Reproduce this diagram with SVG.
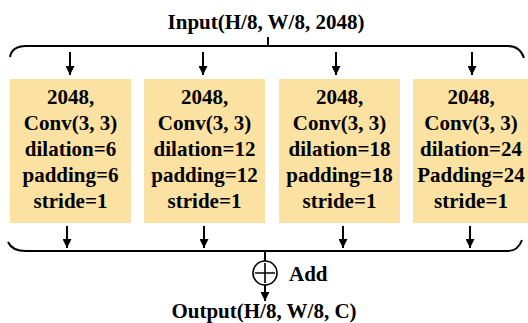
<svg xmlns="http://www.w3.org/2000/svg" width="528" height="323" viewBox="0 0 528 323">
  <defs>
    <marker id="arrow" viewBox="0 0 10 10" refX="10" refY="5" markerWidth="10" markerHeight="9" markerUnits="userSpaceOnUse" orient="auto">
      <path d="M0,0 L10,5 L0,10 Z" fill="#000"/>
    </marker>
    <style>
      .box { fill: #FBE2A2; }
      .lbl { font-family: "Liberation Serif", "Times New Roman", serif; font-weight: bold; font-size: 21px; fill: #000; text-anchor: middle; }
      .line { fill: none; stroke: #000; stroke-width: 2; }
      .arr { fill: none; stroke: #000; stroke-width: 2; marker-end: url(#arrow); }
    </style>
  </defs>
  <rect width="528" height="323" fill="#fff"/>

  <text class="lbl" x="266" y="29">Input(H/8, W/8, 2048)</text>

  <g id="connectors">
    <!-- input bracket -->
    <path class="line" d="M10,57 Q12,46 26,46 L508,46 Q520,46 524,58"/>
    <path class="line" d="M268,37 L268,46"/>
    <path class="arr" d="M70,52 L70,75"/>
    <path class="arr" d="M203,52 L203,75"/>
    <path class="arr" d="M336,52 L336,75"/>
    <path class="arr" d="M472,52 L472,75"/>
    <!-- output bracket -->
    <path class="arr" d="M67,226 L67,248"/>
    <path class="arr" d="M204,226 L204,248"/>
    <path class="arr" d="M343,226 L343,248"/>
    <path class="arr" d="M470,226 L470,248"/>
    <path class="line" d="M8,242 Q12,251 26,251 L508,251 Q518,251 522,240"/>
    <path class="line" d="M265,251 L265,261"/>
    <path class="arr" d="M265,285 L265,301"/>
  </g>

  <g id="branch-d6">
    <rect class="box" x="10" y="79" width="121" height="144"/>
    <text class="lbl" x="70.5" y="104">2048,</text>
    <text class="lbl" x="70.5" y="130">Conv(3, 3)</text>
    <text class="lbl" x="70.5" y="156">dilation=6</text>
    <text class="lbl" x="70.5" y="182">padding=6</text>
    <text class="lbl" x="70.5" y="208">stride=1</text>
  </g>
  <g id="branch-d12">
    <rect class="box" x="144" y="79" width="121" height="144"/>
    <text class="lbl" x="204.5" y="104">2048,</text>
    <text class="lbl" x="204.5" y="130">Conv(3, 3)</text>
    <text class="lbl" x="204.5" y="156">dilation=12</text>
    <text class="lbl" x="204.5" y="182">padding=12</text>
    <text class="lbl" x="204.5" y="208">stride=1</text>
  </g>
  <g id="branch-d18">
    <rect class="box" x="279" y="79" width="121" height="144"/>
    <text class="lbl" x="339.5" y="104">2048,</text>
    <text class="lbl" x="339.5" y="130">Conv(3, 3)</text>
    <text class="lbl" x="339.5" y="156">dilation=18</text>
    <text class="lbl" x="339.5" y="182">padding=18</text>
    <text class="lbl" x="339.5" y="208">stride=1</text>
  </g>
  <g id="branch-d24">
    <rect class="box" x="413" y="79" width="115" height="144"/>
    <text class="lbl" x="471" y="104">2048,</text>
    <text class="lbl" x="471" y="130">Conv(3, 3)</text>
    <text class="lbl" x="471" y="156">dilation=24</text>
    <text class="lbl" x="471" y="182">Padding=24</text>
    <text class="lbl" x="471" y="208">stride=1</text>
  </g>

  <g id="add">
    <circle cx="265" cy="273" r="12" fill="#fff" stroke="#000" stroke-width="1.6"/>
    <path class="line" d="M255,273 L275,273 M265,263 L265,283" style="stroke-width:1.6"/>
    <text class="lbl" x="289" y="281" style="text-anchor:start">Add</text>
  </g>

  <text class="lbl" x="264" y="318">Output(H/8, W/8, C)</text>
</svg>
